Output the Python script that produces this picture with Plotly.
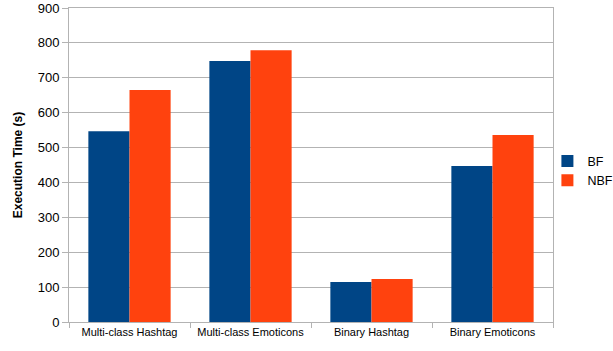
import plotly.graph_objects as go

categories = ["Multi-class Hashtag", "Multi-class Emoticons", "Binary Hashtag", "Binary Emoticons"]
bf_values = [547, 748, 115, 447]
nbf_values = [665, 779, 123, 536]
y_ticks = [0, 100, 200, 300, 400, 500, 600, 700, 800, 900]

fig = go.Figure()
fig.add_trace(go.Bar(name="BF", x=categories, y=bf_values, marker=dict(color="#004586", line=dict(width=0))))
fig.add_trace(go.Bar(name="NBF", x=categories, y=nbf_values, marker=dict(color="#ff420e", line=dict(width=0))))

fig.update_layout(
    width=613, height=351,
    margin=dict(l=69, r=60, t=8, b=29, autoexpand=False),
    paper_bgcolor="white", plot_bgcolor="white",
    barmode="group", bargap=0.32, bargroupgap=0,
    font=dict(family="Liberation Sans, Arial, sans-serif", color="black", size=12),
    legend=dict(xref="container", yref="container", x=0.893, xanchor="left", y=0.513, yanchor="middle",
                font=dict(size=12.5), itemwidth=30, tracegroupgap=0, bgcolor="rgba(0,0,0,0)"),
    xaxis=dict(tickson="boundaries", ticks="outside", ticklen=5, tickcolor="#b3b3b3",
               showline=True, linecolor="#b3b3b3", mirror=True, showgrid=False,
               tickangle=0, tickfont=dict(size=11)),
    yaxis=dict(range=[0, 900], tickvals=y_ticks, ticks="outside", ticklen=6, tickcolor="#b3b3b3",
               showline=True, linecolor="#b3b3b3", mirror=True, showgrid=True, gridcolor="#b3b3b3",
               zeroline=False, tickfont=dict(size=13),
               title=dict(text="<b>Execution Time (s)</b>", font=dict(size=12), standoff=12)),
)
fig.write_html("out.html")
